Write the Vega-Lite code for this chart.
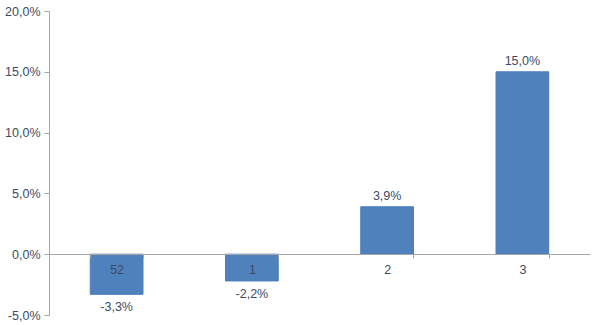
{
  "$schema": "https://vega.github.io/schema/vega-lite/v6.json",
  "autosize": "none",
  "width": 541,
  "height": 304,
  "padding": {"left": 49, "top": 11, "right": 10, "bottom": 10},
  "config": {
    "view": {"stroke": null},
    "font": "Liberation Sans",
    "locale": {"number": {"decimal": ",", "thousands": ".", "grouping": [3], "currency": ["", " €"], "minus": "-"}}
  },
  "data": {
    "values": [
      {"week": "52", "change": -0.033},
      {"week": "1", "change": -0.022},
      {"week": "2", "change": 0.039},
      {"week": "3", "change": 0.150}
    ]
  },
  "encoding": {
    "x": {
      "field": "week", "type": "nominal", "sort": null,
      "scale": {"paddingInner": 0.61, "paddingOuter": 0.305},
      "axis": {
        "title": null, "labelAngle": 0, "offset": -61, "tickBand": "extent", "zindex": 1,
        "domainColor": "#a6a6a6", "tickColor": "#a6a6a6", "tickSize": 4,
        "labelPadding": 5, "labelFontSize": 12.5, "labelColor": "#3c4a63"
      }
    },
    "y": {
      "field": "change", "type": "quantitative",
      "scale": {"domain": [-0.05, 0.2], "nice": false, "zero": false},
      "axis": {
        "title": null, "format": ".1%", "values": [-0.05, 0, 0.05, 0.1, 0.15, 0.2],
        "grid": false, "domainColor": "#a6a6a6", "tickColor": "#a6a6a6", "tickSize": 5,
        "labelPadding": 4, "labelFontSize": 12.5, "labelColor": "#3c4a63"
      }
    }
  },
  "layer": [
    {"mark": {"type": "bar", "color": "#4f81bd", "stroke": "#4a7ebb", "strokeWidth": 1}},
    {
      "transform": [{"filter": "datum.change >= 0"}],
      "mark": {"type": "text", "baseline": "bottom", "dy": -4, "fontSize": 12.5, "color": "#3c4a63"},
      "encoding": {"text": {"field": "change", "type": "quantitative", "format": ".1%"}}
    },
    {
      "transform": [{"filter": "datum.change < 0"}],
      "mark": {"type": "text", "baseline": "top", "dy": 7, "fontSize": 12.5, "color": "#3c4a63"},
      "encoding": {"text": {"field": "change", "type": "quantitative", "format": ".1%"}}
    }
  ]
}
